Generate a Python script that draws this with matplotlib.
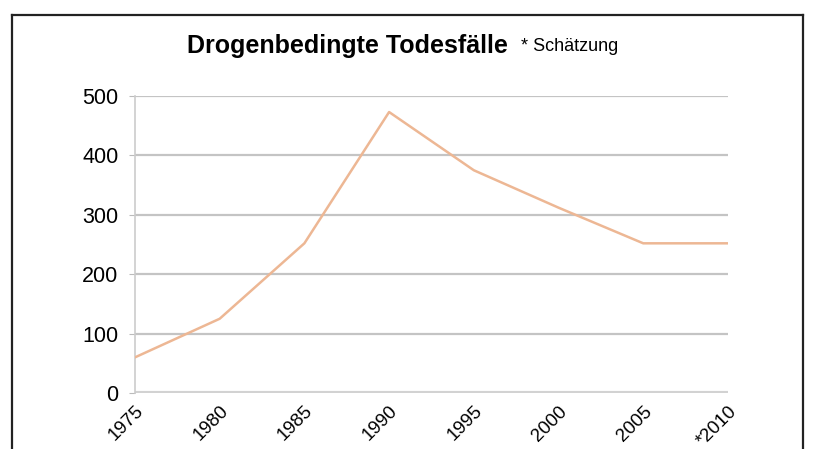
import matplotlib
matplotlib.use('Agg')
import matplotlib.pyplot as plt
from matplotlib.lines import Line2D

# Drogenbedingte Todesfälle (2010 = Schätzung)
jahre = [1975, 1980, 1985, 1990, 1995, 2000, 2005, 2010]
todesfaelle = [60, 125, 252, 473, 375, 312, 252, 252]
tick_labels = ['1975', '1980', '1985', '1990', '1995', '2000', '2005', '*2010']
y_ticks = [0, 100, 200, 300, 400, 500]

plt.rcParams['font.family'] = ['Liberation Sans Narrow', 'Liberation Sans', 'DejaVu Sans']

fig = plt.figure(figsize=(8.13, 4.49), dpi=100)
ax = fig.add_axes([0.166, 0.1247, 0.7294, 0.6615])

for y in y_ticks:
    ax.axhline(y, color='#c4c4c4' if y else '#d2d2d2', lw=1.6 if y else 3, zorder=1)

ax.plot(jahre, todesfaelle, color='#edb794', lw=1.8, zorder=3)

ax.set_xlim(1975, 2010)
ax.set_ylim(0, 500)
ax.set_yticks(y_ticks)
ax.set_yticklabels([str(v) for v in y_ticks], fontsize=15.5)
ax.set_xticks(jahre)
ax.set_xticklabels(tick_labels, fontsize=13.5, rotation=45, ha='right', va='top',
                   rotation_mode='anchor')
ax.tick_params(axis='y', length=4, color='#bbbbbb', pad=8)
ax.tick_params(axis='x', length=0, pad=7)

for s in ['top', 'right', 'bottom']:
    ax.spines[s].set_visible(False)
ax.spines['left'].set_color('#cccccc')
ax.spines['left'].set_linewidth(1.2)

# Titel
fig.text(0.625, 0.897, 'Drogenbedingte Todesfälle', fontsize=18, fontweight='bold',
         ha='right', va='center')
fig.text(0.641, 0.897, '* Schätzung', fontsize=13, ha='left', va='center')

# Rahmen
x0, x1, y0 = 12 / 813, 803 / 813, 1 - 15 / 449
for xs, ys in [([x0, x0], [-0.1, y0]), ([x0, x1], [y0, y0]), ([x1, x1], [y0, -0.1])]:
    fig.add_artist(Line2D(xs, ys, color='#222222', lw=1.6, transform=fig.transFigure))

fig.savefig('out.png', dpi=100, facecolor='white')
